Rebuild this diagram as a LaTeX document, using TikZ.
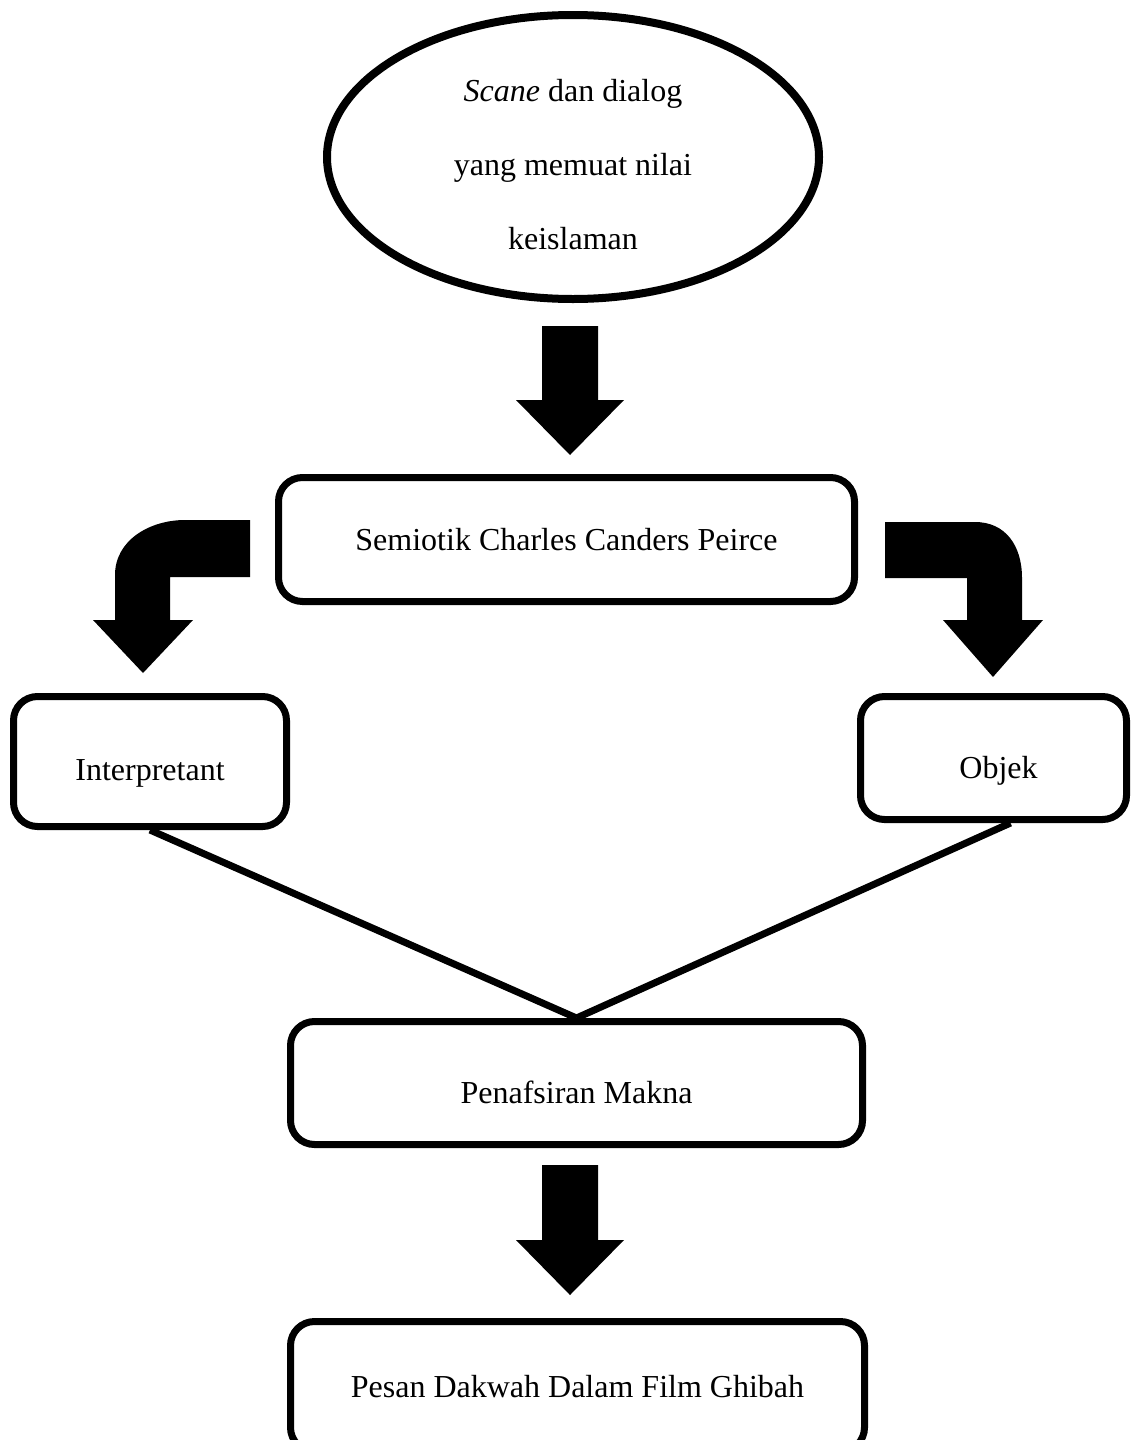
\documentclass[tikz,border=0pt]{standalone}
\usepackage{fontspec}
\setmainfont{Liberation Serif}
\usetikzlibrary{shapes.geometric,calc}
\begin{document}
\begin{tikzpicture}[x=1pt,y=-1pt,
  box/.style={draw=black, line width=7pt, rounded corners=24pt, fill=white, inner sep=0pt, align=center},
  blk/.style={fill=black},
  lnk/.style={draw=black, line width=7pt},
  font=\fontsize{32}{40}\selectfont]
\useasboundingbox (0,0) rectangle (1132,1440);
\clip (0,0) rectangle (1132,1440);
% ellipse
\node[ellipse, draw=black, line width=8pt, minimum width=492pt, minimum height=284pt, inner sep=0pt] (ell) at (573,157) {};
\node[align=center, inner sep=0pt, font=\fontsize{32}{74}\selectfont] (elltext) at (573,165) {\textit{Scane} dan dialog\\yang memuat nilai\\keislaman};
% boxes
\node[box, minimum width=576pt, minimum height=124pt] (sem) at (566.5,539.5) {Semiotik Charles Canders Peirce};
\node[box, minimum width=273pt, minimum height=130pt, text height=44pt, text depth=7pt] (interp) at (150,761.5) {Interpretant};
\node[box, minimum width=266pt, minimum height=123pt, text height=48pt, text depth=7pt, text width=200pt] (obj) at (993.5,758) {\hspace*{10pt}Objek};
\node[box, minimum width=572pt, minimum height=123pt, text height=47pt, text depth=7pt] (pen) at (576.5,1083) {Penafsiran Makna};
\node[box, minimum width=574pt, minimum height=130pt] (pes) at (577.5,1386.5) {Pesan Dakwah Dalam Film Ghibah};
% connector lines
\draw[lnk] (interp.south) -- (pen.north);
\draw[lnk] ($(obj.south)+(17,0)$) -- (pen.north);
% block arrows
\fill[blk] (542,326) -- (598,326) -- (598,400) -- (624,400) -- (570,455) -- (516,400) -- (542,400) -- cycle;
\fill[blk] (542,1165) -- (598,1165) -- (598,1240) -- (624,1240) -- (570,1295) -- (516,1240) -- (542,1240) -- cycle;
\fill[blk] (250,520) -- (250,577) -- (170,577) -- (170,620) -- (193,620) -- (143,673) -- (93,620) -- (115,620) -- (115,575) .. controls (115,540) and (150,520) .. (185,520) -- cycle;
\fill[blk] (885,522) -- (975,522) .. controls (1005,522) and (1022,545) .. (1022,578) -- (1022,620) -- (1043,620) -- (993,677) -- (943,620) -- (967,620) -- (967,578) -- (885,578) -- cycle;
\end{tikzpicture}
\end{document}
